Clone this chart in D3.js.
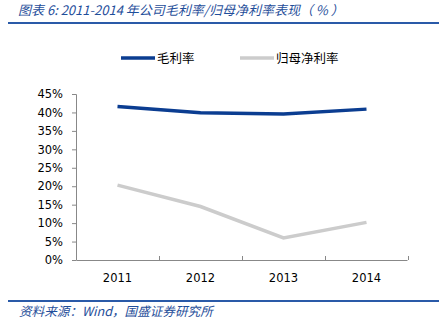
<!DOCTYPE html>
<html><head><meta charset="utf-8">
<script src="https://cdn.jsdelivr.net/npm/d3@7"></script>
<style>body{margin:0;background:#fff}svg{display:block}</style>
</head><body>
<script>
const categories = ["2011","2012","2013","2014"];
const grossMargin = [41.6, 39.9, 39.6, 40.9];
const netMargin = [20.3, 14.5, 6.0, 10.2];
const yTicks = [0,5,10,15,20,25,30,35,40,45];
const seriesNames = ["毛利率","归母净利率"];
const titleText = "图表 6:  2011-2014 年公司毛利率/归母净利率表现（ % ）";
const sourceText = "资料来源：Wind，国盛证券研究所";

const W=441,H=331;
const svg=d3.select("body").append("svg").attr("width",W).attr("height",H);
const blue="#0b3d91", gray="#cccccc", textBlue="#1f4e9a";
const cjk="'Noto Sans CJK SC', sans-serif";

svg.append("text").attr("x",18).attr("y",15).attr("font-family",cjk)
  .attr("font-size",13).attr("font-style","italic").attr("fill",textBlue).text(titleText);
svg.append("line").attr("x1",8).attr("x2",439).attr("y1",23).attr("y2",23)
  .attr("stroke","#2a5aa8").attr("stroke-width",2);

const x=d3.scaleBand().domain(categories).range([76,408]);
const y=d3.scaleLinear().domain([0,45]).range([260,94]);

// y axis
const ya=svg.append("g").attr("transform","translate(76,0)")
  .call(d3.axisLeft(y).tickValues(yTicks).tickFormat(d=>d+"%").tickSize(4).tickPadding(9));
ya.select(".domain").attr("stroke","#888").attr("d","M-4,94.5H0.5V260.5");
ya.selectAll(".tick line").attr("stroke","#888");
ya.selectAll("text").attr("font-family","'DejaVu Sans', sans-serif").attr("font-size",11.5).attr("fill","#000");

// x axis
const xa=svg.append("g").attr("transform","translate(0,260)")
  .call(d3.axisBottom(x).tickSize(0).tickPadding(14));
xa.select(".domain").attr("stroke","#888").attr("d","M76.5,0.5H407.5");
xa.selectAll("text").attr("font-family","'DejaVu Sans', sans-serif").attr("font-size",11.5).attr("fill","#000");
const bounds=categories.map(c=>x(c)).concat([x.range()[1]]);
xa.selectAll(".bt").data(bounds).enter().append("line")
  .attr("x1",d=>Math.round(d)+0.5).attr("x2",d=>Math.round(d)+0.5)
  .attr("y1",0).attr("y2",-4).attr("stroke","#888");

const line=d3.line().x((d,i)=>x(categories[i])+x.bandwidth()/2).y(d=>y(d));
svg.append("path").datum(netMargin).attr("d",line).attr("fill","none")
  .attr("stroke",gray).attr("stroke-width",3.5);
svg.append("path").datum(grossMargin).attr("d",line).attr("fill","none")
  .attr("stroke",blue).attr("stroke-width",3.5);

// legend
const leg=[{n:seriesNames[0],c:blue,x:121},{n:seriesNames[1],c:gray,x:240}];
leg.forEach(l=>{
  svg.append("line").attr("x1",l.x).attr("x2",l.x+34).attr("y1",58).attr("y2",58)
    .attr("stroke",l.c).attr("stroke-width",3.5);
  svg.append("text").attr("x",l.x+36).attr("y",62.5).attr("font-family",cjk)
    .attr("font-size",12.5).attr("fill","#000").text(l.n);
});

svg.append("line").attr("x1",8).attr("x2",439).attr("y1",301).attr("y2",301)
  .attr("stroke","#2a5aa8").attr("stroke-width",2);
svg.append("text").attr("x",19).attr("y",316).attr("font-family",cjk)
  .attr("font-size",12.6).attr("font-style","italic").attr("fill",textBlue).text(sourceText);
</script>
</body></html>
